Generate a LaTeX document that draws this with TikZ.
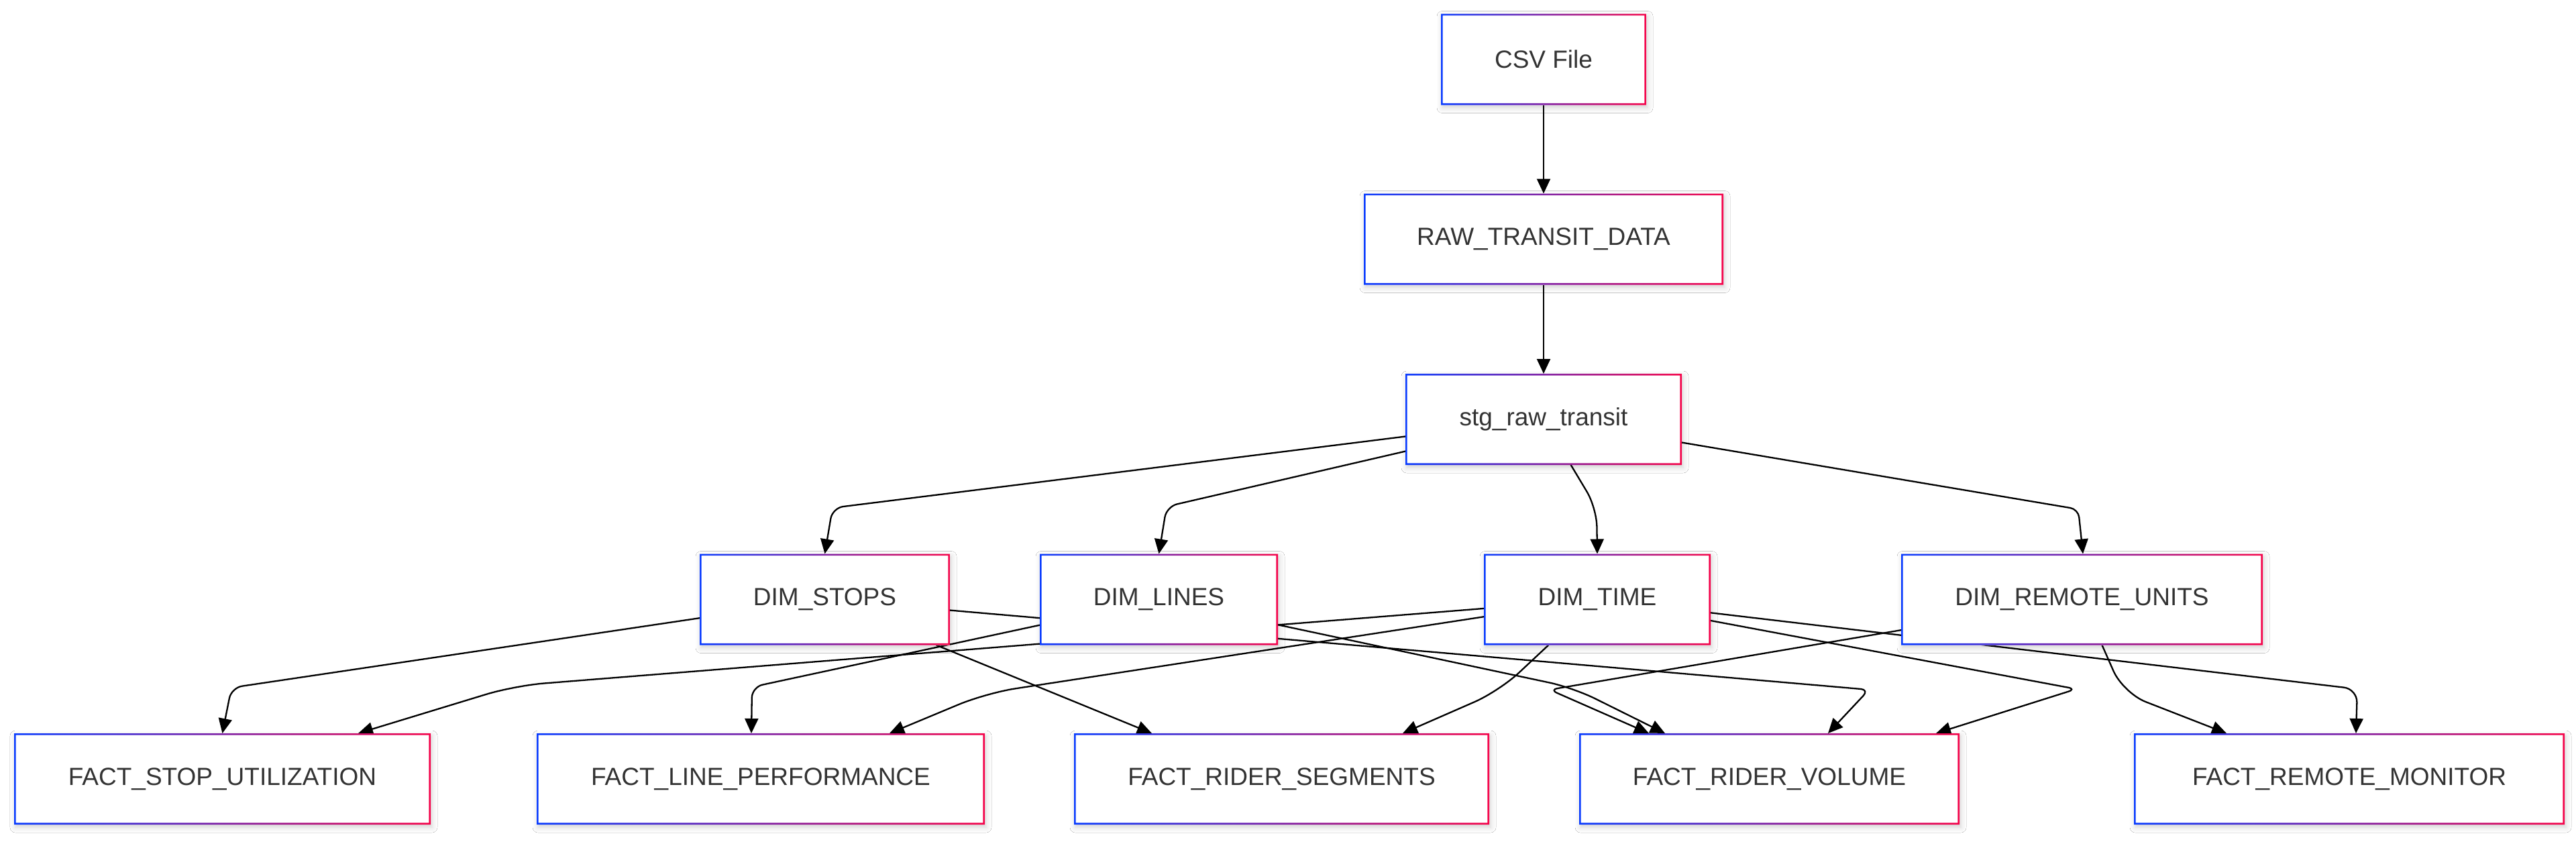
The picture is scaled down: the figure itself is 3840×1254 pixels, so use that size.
\documentclass[tikz,border=0pt]{standalone}
\usepackage{fontspec}
\setmainfont{Liberation Sans}
\usetikzlibrary{arrows.meta,shadows.blur}
\definecolor{gblue}{RGB}{10,60,255}
\definecolor{gred}{RGB}{245,5,75}
\definecolor{txt}{RGB}{51,51,51}
\pgfdeclarelayer{bgfill}
\pgfdeclarelayer{bg}
\pgfsetlayers{bgfill,bg,main}
\newcommand\gframe[1]{%
  \shade[left color=gblue, right color=gred, even odd rule]
    (#1.south west) rectangle (#1.north east)
    ([shift={(1.3pt,1.3pt)}]#1.south west) rectangle ([shift={(-1.3pt,-1.3pt)}]#1.north east);}
\tikzset{
  box/.style={fill=white, minimum height=68pt, inner sep=0pt, outer sep=0pt,
    text=txt, font=\fontsize{18.5pt}{22pt}\selectfont,
    blur shadow={shadow xshift=1pt, shadow yshift=-2pt, shadow blur radius=4pt, shadow opacity=18}},
  conn/.style={draw=black, line width=1.15pt, -{Triangle[length=11pt,width=10pt]}},
}
\begin{document}
\begin{tikzpicture}[x=0.5pt,y=-0.5pt]
\useasboundingbox (0,0) rectangle (3840,1254);
% nodes
\node[box, minimum width=153pt] (csv) at (2301,88.5) {CSV File};
\node[box, minimum width=268pt] (raw) at (2301,356.5) {RAW\_TRANSIT\_DATA};
\node[box, minimum width=206pt] (stg) at (2301,625) {stg\_raw\_transit};
\node[box, minimum width=186.5pt] (dstops) at (1229.5,893.5) {DIM\_STOPS};
\node[box, minimum width=177.5pt] (dlines) at (1727.5,893.5) {DIM\_LINES};
\node[box, minimum width=169pt] (dtime) at (2381,893.5) {DIM\_TIME};
\node[box, minimum width=269.5pt] (dremote) at (3103.5,893.5) {DIM\_REMOTE\_UNITS};
\node[box, minimum width=310.5pt] (fstop) at (331.5,1161) {FACT\_STOP\_UTILIZATION};
\node[box, minimum width=334pt] (fline) at (1134,1161) {FACT\_LINE\_PERFORMANCE};
\node[box, minimum width=309.5pt] (fseg) at (1910.5,1161) {FACT\_RIDER\_SEGMENTS};
\node[box, minimum width=283.5pt] (fvol) at (2637.5,1161) {FACT\_RIDER\_VOLUME};
\node[box, minimum width=321pt] (fremote) at (3502,1161) {FACT\_REMOTE\_MONITOR};
\foreach \n in {csv,raw,stg,dstops,dlines,dtime,dremote,fstop,fline,fseg,fvol,fremote}{\gframe{\n}}
% connectors
\begin{pgfonlayer}{bg}
\draw[conn] (csv) -- (raw);
\draw[conn] (raw) -- (stg);
\draw[conn, rounded corners=8pt] (stg) -- (1241,757) -- (dstops.north);
\draw[conn, rounded corners=8pt] (stg) -- (1739,755) -- (dlines.north);
\draw[conn, rounded corners=14pt] (stg) -- (2380,757) -- (dtime.north);
\draw[conn, rounded corners=6pt] (stg) -- (3098,759) -- ([xshift=0.75pt]dremote.north);
\draw[conn, rounded corners=8pt] (dstops) -- (345,1025) -- (fstop.north);
\draw[conn] (dstops) -- ([xshift=-96.75pt]fseg.north);
\draw[conn, rounded corners=6pt] (dstops) -- (2786,1028) -- ([xshift=43.75pt]fvol.north);
\draw[conn, rounded corners=8pt] (dlines) -- (1121,1024) -- ([xshift=-7pt]fline.north);
\draw[conn, rounded corners=18pt] (dlines) -- (2345,1025) -- ([xshift=-77.75pt]fvol.north);
\draw[conn, rounded corners=22pt] (dtime) -- (767,1022) -- ([xshift=101.25pt]fstop.north);
\draw[conn, rounded corners=22pt] (dtime) -- (1470,1033) -- ([xshift=96pt]fline.north);
\draw[conn, rounded corners=20pt] (dtime) -- (2235,1030) -- ([xshift=90.25pt]fseg.north);
\draw[conn, rounded corners=6pt] (dtime) -- (3095,1027) -- ([xshift=124.25pt]fvol.north);
\draw[conn, rounded corners=10pt] (dtime) -- (3514,1027) -- ([xshift=5pt]fremote.north);
\draw[conn, rounded corners=6pt] (dremote) -- (2310,1028) -- ([xshift=-89.75pt]fvol.north);
\draw[conn, rounded corners=18pt] (dremote) -- (3165,1033) -- ([xshift=-91.5pt]fremote.north);
\end{pgfonlayer}
\begin{pgfonlayer}{bgfill}
\fill[white] (0,0) rectangle (3840,1254);
\end{pgfonlayer}
\end{tikzpicture}
\end{document}
